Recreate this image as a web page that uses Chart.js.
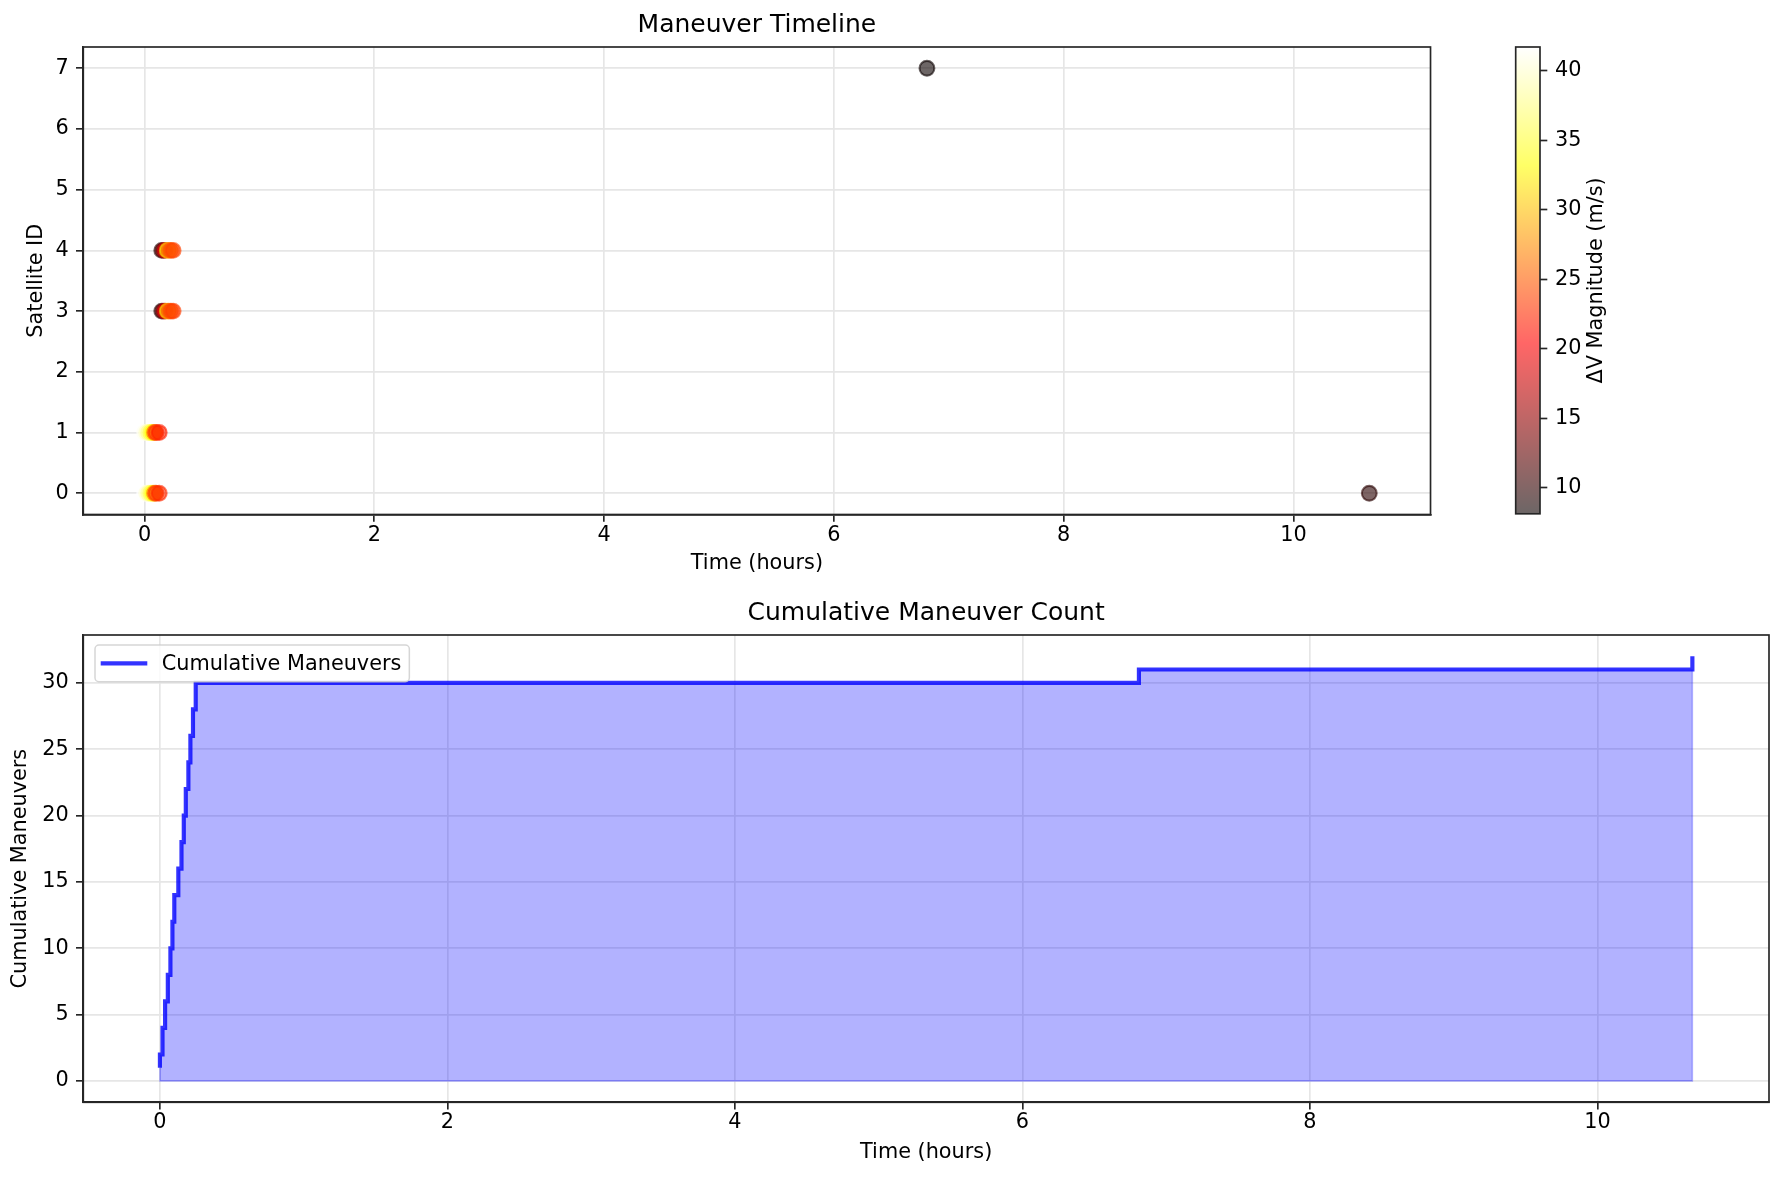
<!DOCTYPE html>
<html><head><meta charset="utf-8">
<script src="https://cdn.jsdelivr.net/npm/chart.js@4.4.1/dist/chart.umd.min.js"></script>
<style>
html,body{margin:0;padding:0;background:#fff;}
#wrap{position:relative;width:1784px;height:1181px;overflow:hidden;background:#fff;}
canvas{position:absolute;}
</style></head><body>
<div id="wrap">
<canvas id="top" width="1440" height="588" style="left:0;top:0"></canvas>
<canvas id="cbar" width="344" height="588" style="left:1440px;top:0"></canvas>
<canvas id="bottom" width="1784" height="593" style="left:0;top:588px"></canvas>
</div>
<script>
// ---------------- data ----------------
const maneuverTime = [0.000,0.000,0.018,0.018,0.036,0.036,0.055,0.055,0.073,0.073,0.087,0.087,0.100,0.100,0.128,0.128,
                      0.150,0.150,0.166,0.166,0.180,0.180,0.198,0.198,0.212,0.212,0.230,0.230,0.249,0.249,
                      6.81,10.66];
const maneuverSat  = [0,1,0,1,0,1,0,1,0,1,0,1,0,1,0,1,
                      3,4,3,4,3,4,3,4,3,4,3,4,3,4,
                      7,0];
const maneuverDV   = [41.7,41.2,40.5,40.0,38.5,38.0,36.0,35.5,33.5,33.0,26.0,25.5,23.5,23.0,22.5,22.0,
                      9.5,9.8,14.0,13.5,19.0,18.5,32.0,32.5,26.0,26.5,24.0,24.5,23.5,23.7,
                      8.13,9.6];
const timeTicks = [0,2,4,6,8,10];
const satTicks = [0,1,2,3,4,5,6,7];
const cumTicks = [0,5,10,15,20,25,30];
const cbarTicks = [10,15,20,25,30,35,40];

// ---------------- helpers ----------------
const FONT = 'DejaVu Sans';
Chart.defaults.font.family = FONT;
Chart.defaults.color = '#000';
const TICK = 20.8, LW = 1.67;

const vmin = Math.min(...maneuverDV), vmax = Math.max(...maneuverDV);
function hot(x){
  x = Math.max(0, Math.min(1, x));
  const r = x < 0.365079 ? 0.0416 + x*(1-0.0416)/0.365079 : 1;
  const g = Math.max(0, Math.min(1, (x-0.365079)/(0.746032-0.365079)));
  const b = Math.max(0, Math.min(1, (x-0.746032)/(1-0.746032)));
  return [Math.round(r*255), Math.round(g*255), Math.round(b*255)];
}
function hotRGBA(v, a){ const c = hot((v-vmin)/(vmax-vmin)); return `rgba(${c[0]},${c[1]},${c[2]},${a})`; }

const tMin = Math.min(...maneuverTime), tMax = Math.max(...maneuverTime);
const xLo = tMin - 0.05*(tMax-tMin), xHi = tMax + 0.05*(tMax-tMin);

const framePlugin = {
  id:'frame',
  afterDatasetsDraw(chart){
    const {ctx, chartArea:ca} = chart;
    ctx.save(); ctx.strokeStyle='#262626'; ctx.lineWidth=LW;
    ctx.strokeRect(ca.left, ca.top, ca.right-ca.left, ca.bottom-ca.top);
    ctx.restore();
  }
};
function fixTicks(arr){ return s => { s.ticks = arr.map(v => ({value:v})); }; }
function axisCommon(extra){
  return Object.assign({
    type:'linear',
    grid:{color:'#e6e6e6', lineWidth:LW, tickLength:7.3, tickColor:'#262626', tickWidth:LW},
    border:{display:true, color:'#262626', width:LW},
    ticks:{font:{size:TICK}, color:'#000'}
  }, extra);
}

// ---------------- top: scatter timeline ----------------
const scatterPts = maneuverTime.map((t,i) => ({x:t, y:maneuverSat[i]}));
const scatterCols = maneuverDV.map(v => hotRGBA(v, 0.6));

new Chart(document.getElementById('top'), {
  type:'scatter',
  data:{datasets:[{
    label:'Maneuvers',
    data:scatterPts,
    pointBackgroundColor:scatterCols,
    pointBorderColor:scatterCols,
    pointRadius:7.4, pointBorderWidth:2.08, pointHoverRadius:7.4
  }]},
  options:{
    responsive:false, animation:false, devicePixelRatio:1, events:[],
    layout:{padding:{left:0,right:9,top:0,bottom:0}},
    plugins:{
      legend:{display:false}, tooltip:{enabled:false},
      title:{display:true, text:'Maneuver Timeline', fullSize:false, color:'#000',
             font:{size:25, weight:'normal'}, padding:{top:10,bottom:7}}
    },
    scales:{
      x:axisCommon({min:xLo, max:xHi, afterBuildTicks:fixTicks(timeTicks),
        afterFit:s=>{s.height=588-514.5;},
        ticks:{font:{size:TICK}, color:'#000', padding:1, maxRotation:0},
        title:{display:true, text:'Time (hours)', font:{size:TICK}, color:'#000', padding:{top:0,bottom:12.2}}}),
      y:axisCommon({min:-0.35, max:7.35, afterBuildTicks:fixTicks(satTicks),
        afterFit:s=>{s.width=83.3;},
        ticks:{font:{size:TICK}, color:'#000', padding:7.3},
        title:{display:true, text:'Satellite ID', font:{size:TICK}, color:'#000', padding:{top:23.9,bottom:0}}})
    }
  },
  plugins:[framePlugin]
});

// ---------------- colorbar ----------------
const cbarLabelPlugin = {
  id:'cbarLabel',
  afterDraw(chart){
    const {ctx, chartArea:ca} = chart;
    ctx.save();
    ctx.strokeStyle='#262626'; ctx.lineWidth=LW;
    ctx.strokeRect(ca.left, ca.top, ca.right-ca.left, ca.bottom-ca.top);
    ctx.translate(156.7, (ca.top+ca.bottom)/2);
    ctx.rotate(-Math.PI/2);
    ctx.fillStyle='#000'; ctx.font=`${TICK}px "${FONT}"`;
    ctx.textAlign='center'; ctx.textBaseline='middle';
    ctx.fillText('ΔV Magnitude (m/s)', 0, 0);
    ctx.restore();
  }
};
new Chart(document.getElementById('cbar'), {
  type:'bar',
  data:{labels:['ΔV'], datasets:[{
    data:[[vmin, vmax]],
    borderWidth:0, barPercentage:1, categoryPercentage:1,
    backgroundColor:(c)=>{
      const ca = c.chart.chartArea; if(!ca) return 'rgba(0,0,0,0)';
      const g = c.chart.ctx.createLinearGradient(0, ca.bottom, 0, ca.top);
      [0, 0.365079, 0.746032, 1].forEach(p => { const col = hot(p); g.addColorStop(p, `rgba(${col[0]},${col[1]},${col[2]},0.6)`); });
      return g;
    }
  }]},
  options:{
    responsive:false, animation:false, devicePixelRatio:1, events:[],
    layout:{padding:{left:75.7, right:0, top:47, bottom:588-513.8}},
    plugins:{legend:{display:false}, tooltip:{enabled:false}},
    scales:{
      x:{display:false},
      y:{type:'linear', position:'right', min:vmin, max:vmax, afterBuildTicks:fixTicks(cbarTicks),
         afterFit:s=>{s.width=244;},
         grid:{drawOnChartArea:false, tickLength:7.3, tickColor:'#262626', tickWidth:LW},
         border:{display:false},
         ticks:{font:{size:TICK}, color:'#000', padding:7.7}}
    }
  },
  plugins:[cbarLabelPlugin]
});

// ---------------- bottom: cumulative ----------------
const sortedTimes = maneuverTime.slice().sort((a,b)=>a-b);
const cumPts = sortedTimes.map((t,i) => ({x:t, y:i+1}));
const n = cumPts.length;
const fillEdgePts = [
  {x:sortedTimes[n-1], y:n-1}, {x:sortedTimes[n-1], y:0},
  {x:sortedTimes[0], y:0}, {x:sortedTimes[0], y:1}
];

const legendPlugin = {
  id:'boxLegend',
  afterDraw(chart){
    const {ctx, chartArea:ca} = chart;
    const ds = chart.data.datasets[1];
    ctx.save();
    ctx.font = `${TICK}px "${FONT}"`;
    const tw = ctx.measureText(ds.label).width;
    const x0 = ca.left + 11.7, y0 = ca.top + 10, h = 36.7, w = 66.7 + tw + 8;
    ctx.beginPath();
    ctx.roundRect(x0, y0, w, h, 4);
    ctx.fillStyle='rgba(255,255,255,0.8)'; ctx.fill();
    ctx.strokeStyle='rgba(204,204,204,0.8)'; ctx.lineWidth=1.5; ctx.stroke();
    ctx.beginPath();
    ctx.moveTo(x0+5.7, y0+h/2); ctx.lineTo(x0+52.3, y0+h/2);
    ctx.strokeStyle=ds.borderColor; ctx.lineWidth=ds.borderWidth; ctx.stroke();
    ctx.fillStyle='#000'; ctx.textAlign='left'; ctx.textBaseline='middle';
    ctx.fillText(ds.label, x0+66.7, y0+h/2+1);
    ctx.restore();
  }
};

new Chart(document.getElementById('bottom'), {
  type:'line',
  data:{datasets:[
    {label:'fill edge', data:fillEdgePts, borderColor:'rgba(0,0,255,0.3)', borderWidth:1.5,
     pointRadius:0, fill:false, tension:0},
    {label:'Cumulative Maneuvers', data:cumPts, stepped:'before',
     borderColor:'rgba(0,0,255,0.8)', borderWidth:4.17, pointRadius:0,
     fill:'origin', backgroundColor:'rgba(0,0,255,0.3)', tension:0}
  ]},
  options:{
    responsive:false, animation:false, devicePixelRatio:1, events:[],
    layout:{padding:{left:0,right:15,top:0,bottom:0}},
    plugins:{
      legend:{display:false}, tooltip:{enabled:false},
      title:{display:true, text:'Cumulative Maneuver Count', fullSize:false, color:'#000',
             font:{size:25, weight:'normal'}, padding:{top:10,bottom:7}}
    },
    scales:{
      x:axisCommon({min:xLo, max:xHi, afterBuildTicks:fixTicks(timeTicks),
        afterFit:s=>{s.height=593-514.3;},
        ticks:{font:{size:TICK}, color:'#000', padding:1, maxRotation:0},
        title:{display:true, text:'Time (hours)', font:{size:TICK}, color:'#000', padding:{top:0,bottom:16}}}),
      y:axisCommon({min:-1.6, max:33.6, afterBuildTicks:fixTicks(cumTicks),
        afterFit:s=>{s.width=83.3;},
        ticks:{font:{size:TICK}, color:'#000', padding:7.3},
        title:{display:true, text:'Cumulative Maneuvers', font:{size:TICK}, color:'#000', padding:{top:8,bottom:0}}})
    }
  },
  plugins:[framePlugin, legendPlugin]
});
</script>
</body></html>
